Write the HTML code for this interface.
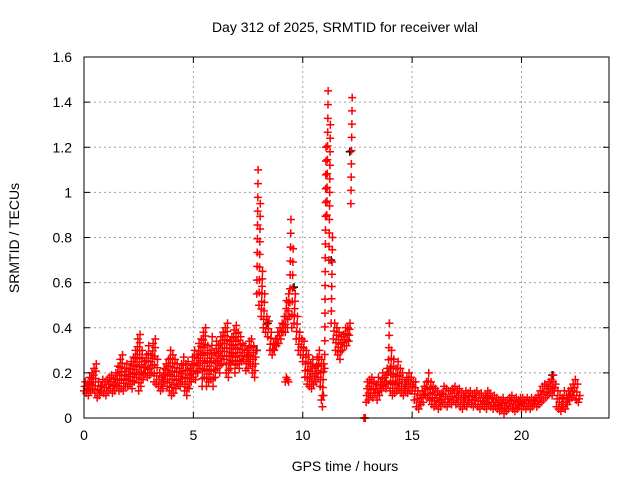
<!DOCTYPE html>
<html><head><meta charset="utf-8"><style>
body{margin:0;background:#fff}
svg text{font-family:"Liberation Sans",sans-serif;font-size:14px;fill:#000}
</style></head><body>
<svg id="chart" width="640" height="480" viewBox="0 0 640 480" xmlns="http://www.w3.org/2000/svg">
<rect width="640" height="480" fill="#fff"/>
<text x="345" y="32" text-anchor="middle">Day 312 of 2025, SRMTID for receiver wlal</text>
<text x="345" y="471" text-anchor="middle">GPS time / hours</text>
<text transform="translate(19,238) rotate(-90)" text-anchor="middle">SRMTID / TECUs</text>
<g id="grid"></g><g id="marks"></g><g id="axes"></g>
</svg>
<script>
const xTicks=[0,5,10,15,20];
const yTicks=[0,0.2,0.4,0.6,0.8,1,1.2,1.4,1.6];
const yTickLabels=["0","0.2","0.4","0.6","0.8","1","1.2","1.4","1.6"];
const tStep=0.1;
const lo=[0.12,0.11,0.10,0.12,0.13,0.11,0.09,0.10,0.12,0.11,
0.10,0.12,0.13,0.11,0.12,0.14,0.12,0.13,0.12,0.14,
0.14,0.15,0.13,0.16,0.18,0.12,0.14,0.17,0.20,0.18,
0.19,0.20,0.16,0.15,0.14,0.12,0.13,0.16,0.14,0.12,
0.10,0.11,0.13,0.15,0.14,0.16,0.12,0.10,0.13,0.16,
0.18,0.17,0.20,0.22,0.14,0.18,0.14,0.16,0.17,0.14,
0.18,0.22,0.20,0.24,0.26,0.20,0.18,0.22,0.25,0.20,
0.24,0.22,0.25,0.26,0.21,0.22,0.24,0.20,0.18,0.55,
0.50,0.45,0.40,0.38,0.36,0.30,0.28,0.30,0.32,0.33,
0.35,0.38,0.38,0.40,0.45,0.40,0.42,0.35,0.30,0.28,
0.25,0.18,0.15,0.14,0.13,0.15,0.16,0.18,0.14,0.10,
0.22,0.90,0.70,0.42,0.35,0.30,0.28,0.26,0.30,0.32,
0.32,0.34,0.95,null,null,null,null,null,0.0,0.07,
0.08,0.10,0.09,0.11,0.08,0.10,0.12,0.14,0.13,0.15,
0.12,0.10,0.11,0.12,0.13,0.11,0.10,0.12,0.11,0.12,
0.12,0.08,0.05,0.04,0.06,0.07,0.10,0.09,0.08,0.06,
0.05,0.06,0.04,0.05,0.07,0.06,0.05,0.07,0.06,0.08,
0.06,0.07,0.05,0.04,0.06,0.05,0.07,0.06,0.05,0.06,
0.05,0.04,0.06,0.05,0.04,0.06,0.05,0.04,0.05,0.04,
0.03,0.04,0.02,0.03,0.04,0.05,0.04,0.03,0.04,0.05,
0.04,0.05,0.04,0.05,0.04,0.05,0.06,0.05,0.06,0.07,
0.08,0.09,0.10,0.11,0.10,0.12,0.05,0.04,0.03,0.05,
0.04,0.06,0.08,0.09,0.10,0.08,0.07];
const hi=[0.16,0.15,0.18,0.20,0.22,0.24,0.16,0.14,0.17,0.16,
0.17,0.18,0.19,0.17,0.20,0.23,0.26,0.28,0.22,0.24,
0.22,0.25,0.27,0.30,0.35,0.37,0.30,0.25,0.28,0.32,
0.28,0.33,0.35,0.26,0.20,0.18,0.22,0.24,0.26,0.30,
0.28,0.26,0.24,0.22,0.24,0.27,0.24,0.25,0.22,0.27,
0.30,0.28,0.33,0.35,0.38,0.40,0.32,0.30,0.36,0.29,
0.34,0.32,0.36,0.38,0.40,0.42,0.34,0.36,0.39,0.41,
0.38,0.36,0.33,0.32,0.30,0.34,0.35,0.32,0.30,1.10,
0.95,0.65,0.55,0.45,0.43,0.38,0.33,0.35,0.38,0.40,
0.42,0.45,0.52,0.55,0.88,0.75,0.55,0.45,0.38,0.35,
0.34,0.30,0.28,0.24,0.26,0.22,0.27,0.30,0.26,0.24,
1.20,1.45,1.30,0.80,0.42,0.40,0.38,0.36,0.37,0.40,
0.40,0.42,1.42,null,null,null,null,null,0.0,0.16,
0.17,0.18,0.16,0.15,0.18,0.16,0.20,0.18,0.22,0.42,
0.30,0.26,0.22,0.25,0.22,0.20,0.16,0.18,0.20,0.18,
0.16,0.16,0.12,0.10,0.12,0.14,0.16,0.20,0.16,0.14,
0.13,0.12,0.10,0.11,0.14,0.13,0.12,0.12,0.13,0.14,
0.12,0.13,0.11,0.10,0.12,0.11,0.12,0.10,0.11,0.12,
0.10,0.11,0.09,0.10,0.12,0.11,0.09,0.10,0.09,0.08,
0.08,0.09,0.07,0.08,0.09,0.10,0.08,0.09,0.08,0.09,
0.09,0.08,0.09,0.08,0.09,0.08,0.09,0.10,0.12,0.14,
0.15,0.14,0.16,0.17,0.19,0.15,0.12,0.10,0.09,0.12,
0.10,0.12,0.13,0.15,0.17,0.15,0.10];
const spikeT=[9.2,9.25,9.3,9.35,10.85,10.9,10.95];
const spikeV=[0.16,0.18,0.17,0.16,0.08,0.05,0.1];
const blackT=[7.9,9.6,11.3,12.15,21.4,8.4,14.0];
const blackV=[0.30,0.58,0.70,1.18,0.19,0.42,0.22];

const X0=84,X1=609,Y0=418,Y1=57,XMAX=24,YMAX=1.6;
const xs=t=>X0+(X1-X0)*t/XMAX;
const ys=v=>Y0-(Y0-Y1)*v/YMAX;
const NS="http://www.w3.org/2000/svg";
function el(tag,attrs,parent){const e=document.createElementNS(NS,tag);for(const k in attrs)e.setAttribute(k,attrs[k]);parent.appendChild(e);return e;}
const grid=document.getElementById('grid'),marks=document.getElementById('marks'),axes=document.getElementById('axes');
xTicks.forEach(t=>{
  if(t>0){const g=el('line',{x1:xs(t),x2:xs(t),y1:Y0,y2:Y1,stroke:'#a0a0a0','stroke-dasharray':'2,3'},grid);
  
  }
  el('line',{x1:xs(t),x2:xs(t),y1:Y0,y2:Y0-6,stroke:'#000'},axes);
  el('line',{x1:xs(t),x2:xs(t),y1:Y1,y2:Y1+6,stroke:'#000'},axes);
  const tx=el('text',{x:xs(t),y:Y0+22,'text-anchor':'middle'},axes);tx.textContent=t;
  
  
});
yTicks.forEach((v,i)=>{
  if(v>0&&v<YMAX){const g=el('line',{x1:X0,x2:X1,y1:ys(v),y2:ys(v),stroke:'#a0a0a0','stroke-dasharray':'2,3'},grid);
  
  }
  el('line',{x1:X0,x2:X0+6,y1:ys(v),y2:ys(v),stroke:'#000'},axes);
  el('line',{x1:X1,x2:X1-6,y1:ys(v),y2:ys(v),stroke:'#000'},axes);
  const tx=el('text',{x:X0-12,y:ys(v)+5,'text-anchor':'end'},axes);tx.textContent=yTickLabels[i];
  
  
});
const frame=el('rect',{x:X0,y:Y1,width:X1-X0,height:Y0-Y1,fill:'none',stroke:'#000'},axes);


function plus(t,v,color,name){
  const x=xs(t),y=ys(v);
  const p=el('path',{d:`M${x-4},${y}h8M${x},${y-4}v8`,stroke:color,'stroke-width':1.5,fill:'none'},marks);
  
  
}
blackT.forEach((t,i)=>plus(t,blackV[i],'#000','black-point'));
lo.forEach((l,i)=>{
  if(l===null)return;const t=i*tStep,h=hi[i];
  const span=ys(l)-ys(h);
  const n=span>60?Math.ceil(span/14):Math.max(2,Math.ceil(span/9));
  for(let k=0;k<=n;k++){
    plus(t+tStep*k/n*0.6,l+(h-l)*k/n,'#ff0000','data-point');
  }
});
spikeT.forEach((t,i)=>plus(t,spikeV[i],'#ff0000','spike-point'));
</script>
</body></html>
